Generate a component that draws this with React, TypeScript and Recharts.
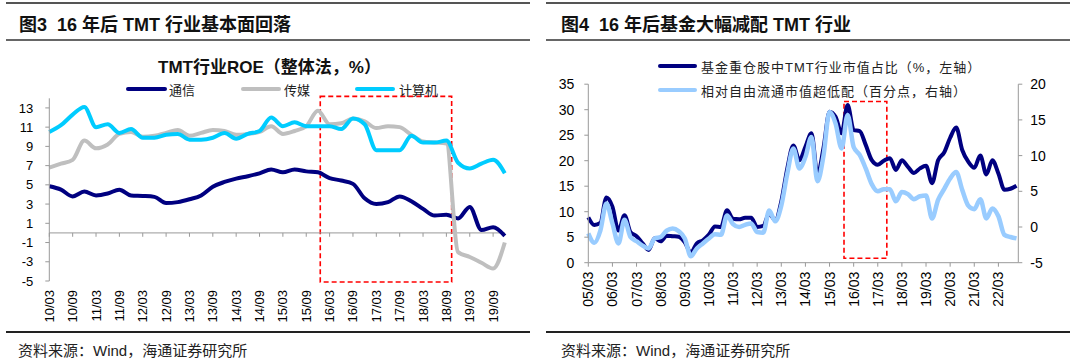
import { LineChart, Line, XAxis, YAxis, ReferenceLine, ReferenceArea } from "recharts";

const FONT = '"Liberation Sans", Arial, "Noto Sans CJK SC", sans-serif';
const AXIS = "#999999";

function quarters(from: number, to: number): string[] {
  const out: string[] = [];
  for (let y = from; y <= to; y++) {
    for (const m of ["03", "06", "09", "12"]) out.push(`${String(y % 100).padStart(2, "0")}/${m}`);
  }
  return out;
}

// 图3 TMT行业ROE（整体法，%），季度
const roeQuarters = quarters(2010, 2019);
const roeTickLabels = [
  "10/03", "10/09", "11/03", "11/09", "12/03", "12/09", "13/03", "13/09", "14/03", "14/09",
  "15/03", "15/09", "16/03", "16/09", "17/03", "17/09", "18/03", "18/09", "19/03", "19/09",
];
const roeYTicks = [-5, -3, -1, 1, 3, 5, 7, 9, 11, 13];
const roeTelecom = [
  4.85, 4.5, 3.8, 4.3, 3.9, 4.1, 4.5, 3.9, 3.85, 3.75, 3.1, 3.2, 3.5, 3.9, 4.8, 5.3, 5.65, 5.9, 6.2, 6.6,
  6.3, 6.6, 6.4, 6.3, 5.7, 5.45, 5.1, 3.6, 3.0, 3.2, 3.8, 3.3, 2.5, 1.8, 1.9, 1.5, 2.7, 0.3, 0.6, -0.3,
];
const roeMedia = [
  6.8, 7.2, 7.6, 9.6, 8.8, 9.2, 10.3, 10.5, 10.0, 10.1, 10.4, 10.7, 10.1, 10.4, 10.7, 10.6, 10.2, 10.3, 10.5, 11.1,
  10.3, 10.6, 11.1, 12.7, 11.3, 11.4, 11.9, 11.6, 10.9, 11.1, 11.0, 10.2, 9.5, 9.4, 9.3, -2.0, -2.5, -3.1, -3.7, -1.0,
];
const roeComputer = [
  10.5, 11.2, 12.3, 13.1, 11.0, 11.3, 10.4, 10.8, 9.9, 9.9, 10.2, 10.3, 9.7, 9.7, 9.9, 10.4, 9.8, 10.3, 10.6, 12.0,
  11.1, 11.5, 11.1, 11.1, 11.1, 10.8, 11.9, 11.3, 8.6, 8.6, 8.6, 10.1, 9.4, 9.4, 9.6, 7.3, 6.7, 7.2, 7.6, 6.2,
];

// 图4 基金重仓股中TMT占比（左轴）与相对超低配（右轴），季度
const fundQuarters = quarters(2005, 2022);
const fundTickLabels = [
  "05/03", "06/03", "07/03", "08/03", "09/03", "10/03", "11/03", "12/03", "13/03",
  "14/03", "15/03", "16/03", "17/03", "18/03", "19/03", "20/03", "21/03", "22/03",
];
const fundLeftTicks = [0, 5, 10, 15, 20, 25, 30, 35];
const fundRightTicks = [-5, 0, 5, 10, 15, 20];
const fundTmtShare = [
  8.9, 7.4, 7.8, 12.8, 11.0, 6.3, 9.3, 6.0, 5.2, 3.8, 2.5, 4.8, 4.2, 5.3, 5.2, 5.1, 4.0, 2.0,
  3.8, 4.4, 5.5, 7.1, 7.0, 10.3, 8.6, 8.5, 8.8, 8.8, 7.0, 7.2, 9.6, 8.3, 12.0, 18.5, 23.0, 20.1,
  22.7, 25.4, 17.3, 22.5, 29.6, 28.6, 25.4, 30.9, 26.0, 25.8, 23.1, 20.1, 19.2, 20.0, 20.5, 18.2, 20.1, 18.8,
  17.6, 18.5, 19.0, 15.6, 20.1, 21.6, 24.5, 26.5, 22.1, 19.8, 18.6, 21.0, 17.3, 20.1, 17.5, 14.3, 14.5, 15.1,
];
const fundUnderweight = [
  -0.9, -2.2, -0.5, 3.3, 0.5, -2.3, 1.0, -1.4, -2.0, -2.6, -3.0, -1.6, -1.4, -0.5, -0.2, -0.6, -1.6, -4.1,
  -3.0, -2.3, -1.6, -1.0, -1.1, 1.6, 0.4, 0.0, 0.3, 0.5, -0.7, -0.8, 2.3, 0.8, 3.0, 7.5, 11.0, 8.2,
  9.8, 12.6, 6.4, 10.0, 16.1, 14.5, 11.0, 15.7, 11.2, 10.1, 8.2, 6.0, 5.0, 5.3, 5.3, 3.6, 4.9, 4.6,
  3.9, 4.3, 4.4, 1.2, 3.8, 5.3, 6.8, 7.7, 5.2, 3.0, 2.5, 3.9, 1.2, 2.6, 1.5, -1.1, -1.4, -1.6,
];

const roeRows = roeQuarters.map((q, i) => ({
  idx: i,
  q,
  telecom: roeTelecom[i],
  media: roeMedia[i],
  computer: roeComputer[i],
}));
const roeTicks = roeTickLabels.map((l) => roeQuarters.indexOf(l));

const fundRows = fundQuarters.map((q, i) => ({
  idx: i,
  q,
  share: fundTmtShare[i],
  underweight: fundUnderweight[i],
}));
const fundTicks = fundTickLabels.map((l) => fundQuarters.indexOf(l));

function RotatedTick(props: any) {
  const { x, y, payload, labels, fontSize } = props;
  return (
    <text
      transform={`translate(${x},${y}) rotate(-90)`}
      textAnchor="end"
      dominantBaseline="central"
      fontSize={fontSize}
      fontFamily={FONT}
      fill="#000"
    >
      {labels[payload.value]}
    </text>
  );
}

function Abs({ left, top, style, children }: any) {
  return (
    <div
      style={{
        position: "absolute",
        left,
        top,
        transform: "translateY(-50%)",
        whiteSpace: "pre",
        fontFamily: FONT,
        ...style,
      }}
    >
      {children}
    </div>
  );
}

function Rule({ left, top, width, height, color }: any) {
  return <div style={{ position: "absolute", left, top, width, height, background: color }} />;
}

function Swatch({ left, top, width, color }: any) {
  return (
    <div
      style={{ position: "absolute", left, top: top - 2, width, height: 4, background: color, borderRadius: 2 }}
    />
  );
}

const headStyle = { fontSize: 18, fontWeight: 700, color: "#111" };
const legendStyle = { fontSize: 13, color: "#222" };
const sourceStyle = { fontSize: 15, color: "#222" };

export default function App() {
  return (
    <div
      style={{
        position: "absolute",
        left: 0,
        top: 0,
        width: 1080,
        height: 364,
        background: "#fff",
        overflow: "hidden",
      }}
    >
      {/* left panel frame */}
      <Rule left={6} top={2} width={524} height={2} color="#555" />
      <Abs left={19} top={22.5} style={headStyle}>
        {"图3  16 年后 TMT 行业基本面回落"}
      </Abs>
      <Rule left={6} top={38.5} width={524} height={2} color="#666" />
      <Rule left={6} top={331} width={524} height={1.5} color="#222" />
      <Abs left={18} top={348.5} style={sourceStyle}>
        {"资料来源：Wind，海通证券研究所"}
      </Abs>

      {/* right panel frame */}
      <Rule left={546} top={2} width={524} height={2} color="#555" />
      <Abs left={561} top={22.5} style={headStyle}>
        {"图4  16 年后基金大幅减配 TMT 行业"}
      </Abs>
      <Rule left={546} top={38.5} width={524} height={2} color="#666" />
      <Rule left={546} top={331} width={524} height={1.5} color="#222" />
      <Abs left={561} top={348.5} style={sourceStyle}>
        {"资料来源：Wind，海通证券研究所"}
      </Abs>

      {/* chart 3 */}
      <div style={{ position: "absolute", left: 0, top: 0 }}>
        <LineChart
          width={540}
          height={364}
          data={roeRows}
          margin={{ top: 98.3, right: 35.2, bottom: 43, left: 9.3 }}
        >
          <XAxis
            type="number"
            dataKey="idx"
            domain={[0, 39]}
            ticks={roeTicks}
            interval={0}
            height={40}
            axisLine={false}
            tickLine={false}
            tickSize={0}
            tickMargin={9}
            tick={(p: any) => <RotatedTick {...p} labels={roeQuarters} fontSize={13} />}
          />
          <YAxis
            domain={[-5, 14]}
            ticks={roeYTicks}
            interval={0}
            width={40}
            axisLine={{ stroke: AXIS }}
            tickLine={{ stroke: AXIS }}
            tickSize={4}
            tickMargin={12}
            tick={{ fontSize: 13, fill: "#000", fontFamily: FONT }}
          />
          <ReferenceLine y={0} stroke={AXIS} />
          {roeTicks.map((t) => (
            <ReferenceLine
              key={t}
              segment={[
                { x: t, y: 0 },
                { x: t, y: -0.4 },
              ]}
              stroke={AXIS}
            />
          ))}
          <Line type="monotone" dataKey="telecom" stroke="#000080" strokeWidth={4} dot={false} isAnimationActive={false} />
          <Line type="monotone" dataKey="media" stroke="#BFBFBF" strokeWidth={4} dot={false} isAnimationActive={false} />
          <Line type="monotone" dataKey="computer" stroke="#00CCFF" strokeWidth={4} dot={false} isAnimationActive={false} />
          <ReferenceArea
            x1={23.2}
            x2={34.45}
            y1={-5.1}
            y2={14.2}
            fill="none"
            stroke="#FF0000"
            strokeWidth={1.6}
            strokeDasharray="5 3"
            ifOverflow="visible"
          />
        </LineChart>
      </div>
      <Abs left={269.5} top={64.5} style={{ fontSize: 17, fontWeight: 700, color: "#111", transform: "translate(-50%, -50%)" }}>
        {"TMT行业ROE（整体法，%）"}
      </Abs>
      <Swatch left={126} top={88.8} width={41} color="#000080" />
      <Abs left={169} top={88.8} style={legendStyle}>通信</Abs>
      <Swatch left={241} top={88.8} width={40} color="#BFBFBF" />
      <Abs left={284} top={88.8} style={legendStyle}>传媒</Abs>
      <Swatch left={355} top={88.8} width={40} color="#00CCFF" />
      <Abs left={399} top={88.8} style={legendStyle}>计算机</Abs>

      {/* chart 4 */}
      <div style={{ position: "absolute", left: 540, top: 0 }}>
        <LineChart
          width={540}
          height={364}
          data={fundRows}
          margin={{ top: 84.2, right: 21.7, bottom: 51.3, left: 8.3 }}
        >
          <XAxis
            type="number"
            dataKey="idx"
            domain={[0, 71.3]}
            ticks={fundTicks}
            interval={0}
            height={50}
            axisLine={{ stroke: AXIS }}
            tickLine={{ stroke: AXIS }}
            tickSize={4}
            tickMargin={5}
            tick={(p: any) => <RotatedTick {...p} labels={fundQuarters} fontSize={14} />}
          />
          <YAxis
            yAxisId="left"
            domain={[0, 35]}
            ticks={fundLeftTicks}
            interval={0}
            width={40}
            axisLine={{ stroke: AXIS }}
            tickLine={{ stroke: AXIS }}
            tickSize={4}
            tickMargin={10}
            tick={{ fontSize: 14, fill: "#000", fontFamily: FONT }}
          />
          <YAxis
            yAxisId="right"
            orientation="right"
            domain={[-5, 20]}
            ticks={fundRightTicks}
            interval={0}
            width={40}
            axisLine={{ stroke: AXIS }}
            tickLine={{ stroke: AXIS }}
            tickSize={4}
            tickMargin={8}
            tick={{ fontSize: 14, fill: "#000", fontFamily: FONT }}
          />
          <Line yAxisId="left" type="monotone" dataKey="share" stroke="#000080" strokeWidth={4} dot={false} isAnimationActive={false} />
          <Line yAxisId="right" type="monotone" dataKey="underweight" stroke="#99CCFF" strokeWidth={4.5} dot={false} isAnimationActive={false} />
          <ReferenceArea
            yAxisId="left"
            x1={42.4}
            x2={49.5}
            y1={0.86}
            y2={31.6}
            fill="none"
            stroke="#FF0000"
            strokeWidth={1.6}
            strokeDasharray="5 3"
            ifOverflow="visible"
          />
        </LineChart>
      </div>
      <Swatch left={658} top={66} width={39} color="#000080" />
      <Abs left={701} top={66} style={{ ...legendStyle, letterSpacing: 1 }}>
        {"基金重仓股中TMT行业市值占比（%，左轴）"}
      </Abs>
      <Swatch left={658} top={90} width={39} color="#99CCFF" />
      <Abs left={701} top={90} style={{ ...legendStyle, letterSpacing: 1 }}>
        {"相对自由流通市值超低配（百分点，右轴）"}
      </Abs>
    </div>
  );
}
